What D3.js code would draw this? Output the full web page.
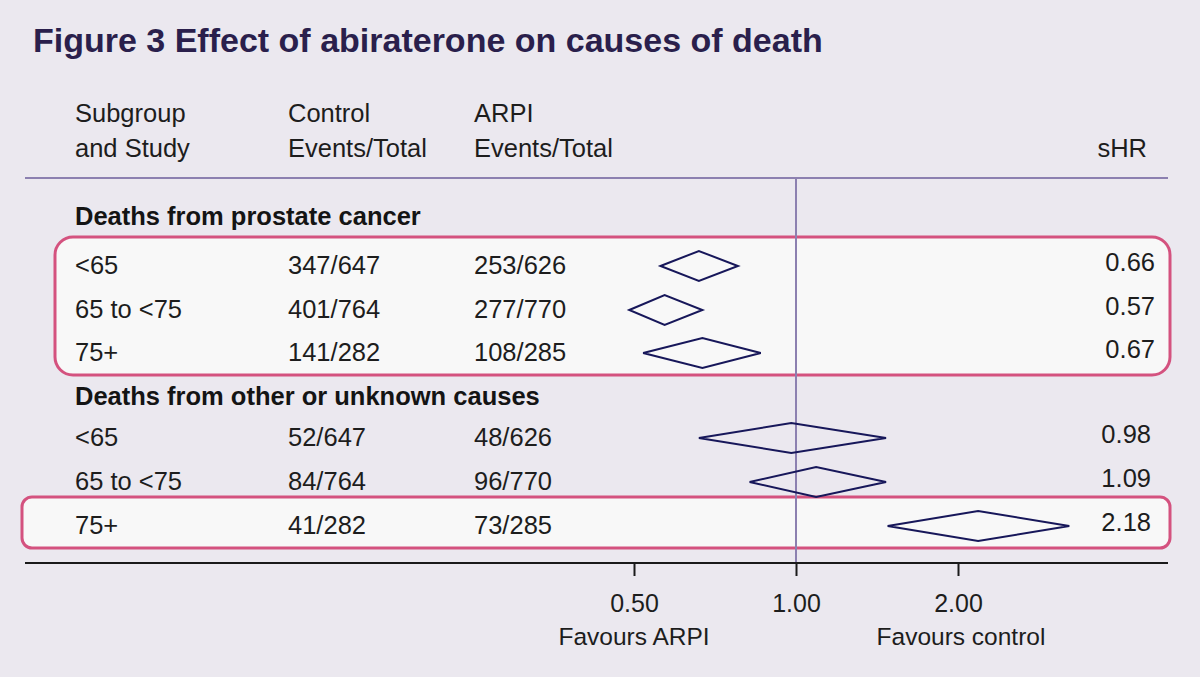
<!DOCTYPE html>
<html>
<head>
<meta charset="utf-8">
<script src="https://cdn.jsdelivr.net/npm/d3@7"></script>
<style>
  html, body { margin: 0; padding: 0; background: #ebe8ef; }
  svg { display: block; font-family: "Liberation Sans", Arial, sans-serif; }
</style>
</head>
<body>
<svg id="chart" width="1200" height="677"></svg>
<script>
// data
const sections = ["Deaths from prostate cancer", "Deaths from other or unknown causes"];
const subgroups = ["<65", "65 to <75", "75+", "<65", "65 to <75", "75+"];
const sectionOf = [0, 0, 0, 1, 1, 1];
const controlEvents = ["347/647", "401/764", "141/282", "52/647", "84/764", "41/282"];
const arpiEvents = ["253/626", "277/770", "108/285", "48/626", "96/770", "73/285"];
const shr = [0.66, 0.57, 0.67, 0.98, 1.09, 2.18];
const ciLow = [0.56, 0.49, 0.52, 0.66, 0.82, 1.48];
const ciHigh = [0.78, 0.67, 0.86, 1.47, 1.47, 3.22];
const tickValues = [0.5, 1, 2];
const highlighted = [[0, 2], [5, 5]]; // row ranges drawn inside a box

const svg = d3.select("#chart");
const W = 1200, H = 677;
const FS = 25.5;

svg.append("rect").attr("width", W).attr("height", H).attr("fill", "#ebe8ef");

// scales
const x = d3.scaleLog().domain([0.5, 2]).range([634, 958]);
const rowY = d3.scaleOrdinal().domain(d3.range(6)).range([265, 309, 352, 437, 481, 525]);
const sectionY = [216, 396];

// title
svg.append("text")
    .attr("x", 33).attr("y", 52)
    .attr("font-size", 34).attr("font-weight", "bold")
    .attr("fill", "#2a1f4c")
    .text("Figure 3 Effect of abiraterone on causes of death");

// column headers
const headers = [
    { x: 75, lines: ["Subgroup", "and Study"] },
    { x: 288, lines: ["Control", "Events/Total"] },
    { x: 474, lines: ["ARPI", "Events/Total"] }
];
headers.forEach((h) => {
    h.lines.forEach((t, i) => {
        svg.append("text")
            .attr("x", h.x).attr("y", 122 + i * 35)
            .attr("font-size", FS).attr("fill", "#1d1d1d")
            .text(t);
    });
});
svg.append("text")
    .attr("x", 1147).attr("y", 157)
    .attr("text-anchor", "end")
    .attr("font-size", FS).attr("fill", "#1d1d1d")
    .text("sHR");

// highlight boxes
highlighted.forEach(([a, b], i) => {
    const left = i === 0 ? 55 : 22;
    svg.append("rect")
        .attr("x", left).attr("y", rowY(a) - 28)
        .attr("width", 1170 - left)
        .attr("height", rowY(b) - rowY(a) + 51)
        .attr("rx", i === 0 ? 18 : 10)
        .attr("fill", "#f8f8f8")
        .attr("stroke", "#d4527f")
        .attr("stroke-width", 3);
});

// header rule
svg.append("line")
    .attr("x1", 25).attr("x2", 1168)
    .attr("y1", 178).attr("y2", 178)
    .attr("stroke", "#8c80b0").attr("stroke-width", 2);

// line of no effect
svg.append("line")
    .attr("x1", x(1)).attr("x2", x(1))
    .attr("y1", 178).attr("y2", 563)
    .attr("stroke", "#8c80b0").attr("stroke-width", 2);

// section headings
sections.forEach((s, i) => {
    svg.append("text")
        .attr("x", 75).attr("y", sectionY[i] + 9)
        .attr("font-size", FS).attr("font-weight", "bold")
        .attr("fill", "#141414")
        .text(s);
});

// rows
const rows = svg.append("g").selectAll("g")
    .data(d3.range(6))
    .join("g");

rows.append("text").attr("x", 75).attr("y", (i) => rowY(i) + 9)
    .attr("font-size", FS).attr("fill", "#1d1d1d")
    .text((i) => subgroups[i]);
rows.append("text").attr("x", 288).attr("y", (i) => rowY(i) + 9)
    .attr("font-size", FS).attr("fill", "#1d1d1d")
    .text((i) => controlEvents[i]);
rows.append("text").attr("x", 474).attr("y", (i) => rowY(i) + 9)
    .attr("font-size", FS).attr("fill", "#1d1d1d")
    .text((i) => arpiEvents[i]);
rows.append("text").attr("x", (i) => sectionOf[i] === 0 ? 1155 : 1151)
    .attr("y", (i) => rowY(i) + 6)
    .attr("text-anchor", "end")
    .attr("font-size", FS).attr("fill", "#1d1d1d")
    .text((i) => shr[i].toFixed(2));

// diamonds
rows.append("path")
    .attr("d", (i) => {
        const cy = rowY(i) + 1, h = 15;
        return `M${x(ciLow[i])},${cy} L${x(shr[i])},${cy - h} L${x(ciHigh[i])},${cy} L${x(shr[i])},${cy + h} Z`;
    })
    .attr("fill", "none")
    .attr("stroke", "#17175a")
    .attr("stroke-width", 2);

// axis
svg.append("line")
    .attr("x1", 25).attr("x2", 1168)
    .attr("y1", 563).attr("y2", 563)
    .attr("stroke", "#1a1a1a").attr("stroke-width", 2);

const axis = d3.axisBottom(x)
    .tickValues(tickValues)
    .tickFormat(d3.format(".2f"))
    .tickSize(13)
    .tickPadding(18);
const axisG = svg.append("g").attr("transform", "translate(0,563)").call(axis);
axisG.select(".domain").remove();
axisG.selectAll(".tick line").attr("stroke", "#1a1a1a").attr("stroke-width", 2);
axisG.selectAll(".tick text")
    .attr("font-size", 25).attr("fill", "#1d1d1d")
    .attr("font-family", "Liberation Sans, Arial, sans-serif");

svg.append("text")
    .attr("x", x(0.5)).attr("y", 645)
    .attr("text-anchor", "middle")
    .attr("font-size", 24.5).attr("fill", "#1d1d1d")
    .text("Favours ARPI");
svg.append("text")
    .attr("x", 961).attr("y", 645)
    .attr("text-anchor", "middle")
    .attr("font-size", 24.5).attr("fill", "#1d1d1d")
    .text("Favours control");
</script>
</body>
</html>
